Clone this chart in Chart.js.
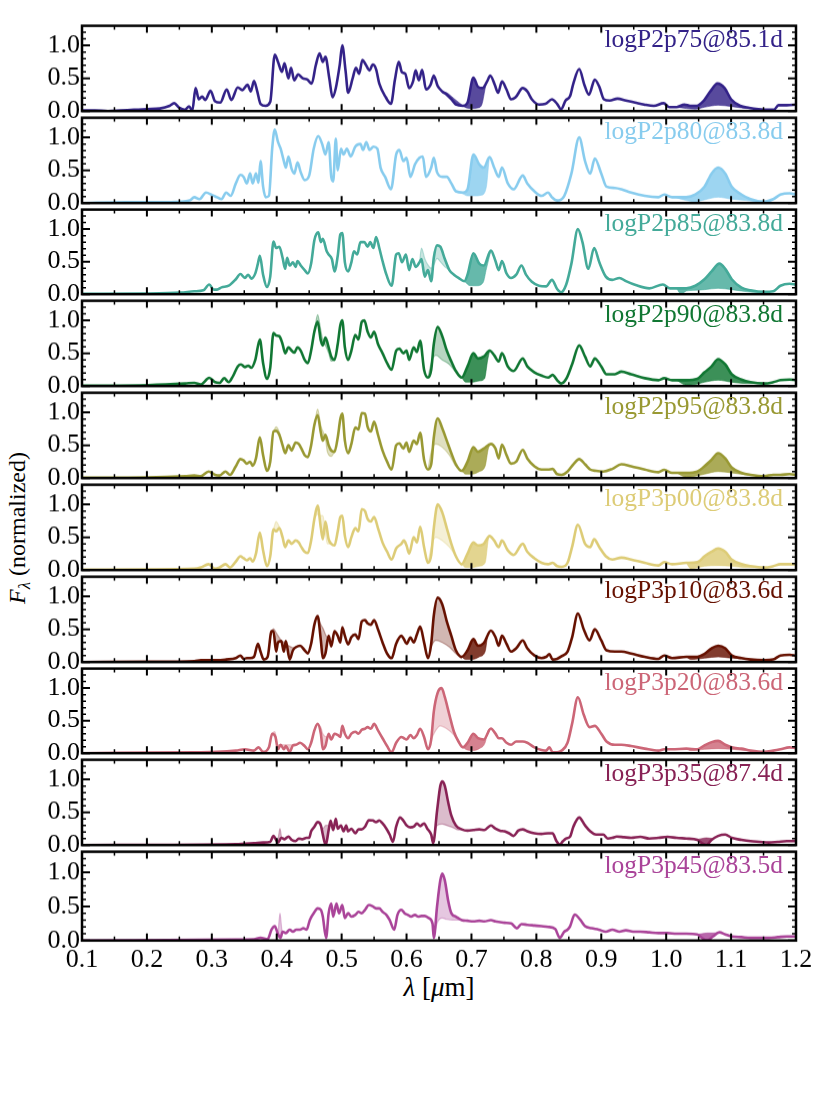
<!DOCTYPE html>
<html><head><meta charset="utf-8">
<script src="https://cdn.jsdelivr.net/npm/chart.js@4.4.1/dist/chart.umd.min.js"></script>
<style>
html,body{margin:0;padding:0;background:#fff;}
body{width:830px;height:1107px;position:relative;overflow:hidden;font-family:"Liberation Serif","DejaVu Serif",serif;}
.panel{position:absolute;left:0;width:830px;}
.plabel{position:absolute;right:47px;font-size:25.5px;line-height:25px;white-space:nowrap;}
#ytitle{position:absolute;left:21px;top:528px;transform:translate(-50%,-50%) rotate(-90deg);font-size:24px;line-height:24px;white-space:nowrap;}
#xtitle{position:absolute;left:439px;top:974px;transform:translateX(-50%);font-size:27px;line-height:27px;white-space:nowrap;}
sub{font-size:0.7em;}
</style></head><body>
<div id="ytitle"><i>F</i><sub><i>λ</i></sub> (normalized)</div>
<div id="xtitle"><i>λ</i> [<i>μ</i>m]</div>
<script>
// ---------------- DATA ----------------
const panelNames = ['logP2p75@85.1d','logP2p80@83.8d','logP2p85@83.8d','logP2p90@83.8d','logP2p95@83.8d',
                    'logP3p00@83.8d','logP3p10@83.6d','logP3p20@83.6d','logP3p35@87.4d','logP3p45@83.5d'];
const panelColors = ['#332288','#88CCEE','#44AA99','#117733','#999933','#DDCC77','#661100','#CC6677','#882255','#AA4499'];
const xMajorTicks = [0.1,0.2,0.3,0.4,0.5,0.6,0.7,0.8,0.9,1.0,1.1,1.2];
const xMinorTicks = [0.15,0.25,0.35,0.45,0.55,0.65,0.75,0.85,0.95,1.05,1.15];
const yMajorTicks = [0.0,0.5,1.0];
const yMinorTicks = [0.1,0.2,0.3,0.4,0.6,0.7,0.8,0.9,1.1,1.2];

// [wavelength (um), normalized flux]
const flux_P2p75 = [[0.10,0.01],[0.12,0.01],[0.14,0.0],[0.16,0.01],[0.18,0.02],[0.20,0.03],[0.22,0.04],[0.235,0.08],[0.242,0.12],[0.25,0.05],[0.258,0.02],[0.265,0.07],[0.27,0.01],[0.275,0.35],[0.28,0.18],[0.285,0.22],[0.29,0.17],[0.298,0.31],[0.305,0.15],[0.313,0.13],[0.323,0.33],[0.33,0.17],[0.34,0.36],[0.347,0.32],[0.355,0.40],[0.36,0.30],[0.365,0.46],[0.37,0.30],[0.375,0.11],[0.383,0.08],[0.39,0.14],[0.397,0.86],[0.402,0.75],[0.408,0.60],[0.412,0.73],[0.418,0.50],[0.422,0.66],[0.427,0.47],[0.433,0.56],[0.44,0.50],[0.447,0.48],[0.454,0.42],[0.46,0.69],[0.466,0.88],[0.471,0.75],[0.475,0.83],[0.481,0.50],[0.486,0.21],[0.491,0.35],[0.497,0.70],[0.501,1.00],[0.506,0.62],[0.51,0.28],[0.517,0.50],[0.522,0.66],[0.527,0.57],[0.532,0.78],[0.537,0.71],[0.543,0.62],[0.548,0.71],[0.553,0.64],[0.558,0.42],[0.568,0.21],[0.576,0.11],[0.582,0.47],[0.588,0.75],[0.593,0.59],[0.598,0.57],[0.604,0.35],[0.61,0.45],[0.614,0.62],[0.619,0.47],[0.624,0.63],[0.63,0.33],[0.637,0.40],[0.642,0.54],[0.648,0.38],[0.655,0.30],[0.662,0.25],[0.669,0.18],[0.676,0.10],[0.687,0.08],[0.694,0.13],[0.703,0.51],[0.71,0.37],[0.717,0.35],[0.724,0.45],[0.729,0.54],[0.736,0.40],[0.741,0.28],[0.747,0.45],[0.754,0.33],[0.761,0.18],[0.768,0.21],[0.779,0.35],[0.786,0.30],[0.793,0.18],[0.804,0.10],[0.814,0.11],[0.824,0.18],[0.832,0.11],[0.838,0.03],[0.845,0.16],[0.852,0.23],[0.857,0.42],[0.866,0.64],[0.874,0.40],[0.881,0.25],[0.89,0.48],[0.897,0.37],[0.904,0.18],[0.913,0.16],[0.925,0.19],[0.938,0.16],[0.952,0.13],[0.966,0.10],[0.981,0.08],[0.996,0.12],[1.005,0.06],[1.016,0.06],[1.028,0.10],[1.037,0.08],[1.047,0.08],[1.058,0.16],[1.068,0.30],[1.079,0.42],[1.09,0.35],[1.1,0.18],[1.114,0.08],[1.128,0.05],[1.142,0.03],[1.156,0.02],[1.166,0.02],[1.173,0.09],[1.186,0.09],[1.2,0.10]];
const flux_P2p80 = [[0.10,0.0],[0.167,0.015],[0.237,0.015],[0.266,0.04],[0.273,0.09],[0.281,0.06],[0.291,0.16],[0.301,0.12],[0.308,0.09],[0.315,0.06],[0.322,0.16],[0.329,0.11],[0.337,0.30],[0.344,0.43],[0.349,0.40],[0.354,0.30],[0.359,0.45],[0.363,0.30],[0.368,0.45],[0.372,0.31],[0.375,0.64],[0.379,0.25],[0.383,0.09],[0.388,0.11],[0.393,0.83],[0.397,1.12],[0.402,0.93],[0.406,0.83],[0.411,0.64],[0.414,0.54],[0.418,0.71],[0.423,0.52],[0.427,0.45],[0.432,0.62],[0.437,0.47],[0.443,0.35],[0.450,0.42],[0.457,0.83],[0.464,1.02],[0.470,0.90],[0.475,0.74],[0.480,0.93],[0.484,0.40],[0.487,0.33],[0.491,0.98],[0.494,0.50],[0.499,0.83],[0.503,0.74],[0.508,0.83],[0.514,0.71],[0.521,0.86],[0.529,0.90],[0.533,0.81],[0.538,0.93],[0.543,0.81],[0.549,0.86],[0.555,0.83],[0.560,0.54],[0.567,0.40],[0.576,0.21],[0.584,0.74],[0.589,0.81],[0.595,0.64],[0.600,0.69],[0.606,0.40],[0.613,0.59],[0.620,0.69],[0.625,0.71],[0.630,0.40],[0.638,0.54],[0.642,0.69],[0.647,0.47],[0.655,0.40],[0.662,0.40],[0.669,0.30],[0.676,0.18],[0.687,0.16],[0.694,0.21],[0.703,0.74],[0.712,0.59],[0.719,0.54],[0.728,0.70],[0.735,0.54],[0.742,0.40],[0.747,0.54],[0.756,0.30],[0.765,0.21],[0.779,0.42],[0.786,0.30],[0.797,0.18],[0.808,0.11],[0.818,0.16],[0.824,0.09],[0.832,0.04],[0.843,0.11],[0.854,0.45],[0.866,1.00],[0.875,0.64],[0.883,0.45],[0.890,0.68],[0.900,0.45],[0.908,0.25],[0.921,0.23],[0.931,0.21],[0.946,0.16],[0.967,0.11],[0.988,0.09],[0.997,0.13],[1.009,0.09],[1.031,0.09],[1.045,0.13],[1.059,0.25],[1.070,0.45],[1.080,0.54],[1.091,0.45],[1.101,0.25],[1.116,0.13],[1.130,0.06],[1.151,0.02],[1.165,0.06],[1.176,0.13],[1.190,0.15],[1.2,0.13]];
const flux_P2p85 = [[0.10,0.005],[0.20,0.01],[0.252,0.025],[0.273,0.045],[0.287,0.06],[0.296,0.15],[0.303,0.07],[0.308,0.07],[0.315,0.105],[0.326,0.13],[0.337,0.23],[0.344,0.31],[0.351,0.25],[0.356,0.30],[0.361,0.24],[0.367,0.32],[0.371,0.47],[0.374,0.59],[0.379,0.30],[0.385,0.11],[0.390,0.27],[0.395,0.81],[0.399,0.71],[0.404,0.73],[0.409,0.56],[0.413,0.39],[0.416,0.56],[0.420,0.44],[0.425,0.49],[0.429,0.42],[0.432,0.51],[0.437,0.44],[0.443,0.37],[0.448,0.32],[0.453,0.47],[0.458,0.83],[0.464,0.95],[0.468,0.80],[0.471,0.85],[0.477,0.66],[0.480,0.61],[0.485,0.54],[0.489,0.35],[0.494,0.59],[0.498,0.92],[0.501,0.94],[0.505,0.49],[0.510,0.35],[0.515,0.49],[0.519,0.66],[0.524,0.61],[0.529,0.80],[0.535,0.80],[0.540,0.73],[0.544,0.80],[0.549,0.71],[0.553,0.88],[0.558,0.71],[0.563,0.51],[0.569,0.30],[0.577,0.13],[0.584,0.61],[0.588,0.63],[0.593,0.49],[0.599,0.61],[0.604,0.37],[0.609,0.54],[0.614,0.42],[0.620,0.49],[0.623,0.54],[0.628,0.27],[0.633,0.37],[0.638,0.20],[0.642,0.56],[0.647,0.75],[0.652,0.73],[0.659,0.54],[0.666,0.37],[0.673,0.30],[0.680,0.25],[0.689,0.20],[0.694,0.30],[0.703,0.63],[0.712,0.47],[0.719,0.44],[0.730,0.67],[0.737,0.51],[0.742,0.37],[0.747,0.51],[0.754,0.32],[0.761,0.25],[0.769,0.30],[0.777,0.44],[0.784,0.30],[0.793,0.19],[0.804,0.13],[0.815,0.12],[0.824,0.22],[0.832,0.08],[0.838,0.03],[0.846,0.15],[0.854,0.47],[0.864,1.00],[0.871,0.80],[0.880,0.39],[0.889,0.71],[0.897,0.49],[0.907,0.27],[0.917,0.22],[0.928,0.25],[0.938,0.20],[0.953,0.14],[0.974,0.09],[0.995,0.15],[1.006,0.09],[1.016,0.09],[1.031,0.09],[1.045,0.13],[1.059,0.23],[1.070,0.35],[1.082,0.47],[1.091,0.39],[1.101,0.23],[1.116,0.10],[1.130,0.06],[1.151,0.035],[1.165,0.045],[1.176,0.13],[1.190,0.16],[1.2,0.15]];
const flux_P2p90 = [[0.10,0.005],[0.202,0.015],[0.259,0.04],[0.273,0.05],[0.283,0.025],[0.296,0.125],[0.305,0.06],[0.312,0.05],[0.319,0.12],[0.326,0.06],[0.333,0.16],[0.340,0.30],[0.345,0.33],[0.351,0.29],[0.356,0.31],[0.361,0.28],[0.367,0.40],[0.374,0.71],[0.379,0.35],[0.385,0.11],[0.390,0.28],[0.395,0.81],[0.399,0.77],[0.404,0.76],[0.409,0.64],[0.413,0.50],[0.418,0.59],[0.423,0.54],[0.427,0.51],[0.432,0.59],[0.437,0.54],[0.443,0.40],[0.448,0.35],[0.453,0.54],[0.458,0.83],[0.463,0.98],[0.468,0.69],[0.471,0.62],[0.475,0.74],[0.480,0.59],[0.484,0.45],[0.489,0.40],[0.494,0.64],[0.498,0.93],[0.501,1.00],[0.505,0.59],[0.510,0.40],[0.515,0.54],[0.521,0.78],[0.526,0.71],[0.531,0.98],[0.535,1.00],[0.540,0.83],[0.545,0.74],[0.550,0.83],[0.556,0.64],[0.563,0.50],[0.570,0.35],[0.577,0.25],[0.584,0.54],[0.589,0.57],[0.595,0.50],[0.600,0.54],[0.604,0.40],[0.611,0.59],[0.616,0.52],[0.621,0.69],[0.627,0.25],[0.633,0.13],[0.638,0.25],[0.642,0.64],[0.648,0.90],[0.655,0.76],[0.662,0.54],[0.669,0.375],[0.676,0.23],[0.685,0.13],[0.694,0.30],[0.703,0.50],[0.710,0.42],[0.719,0.45],[0.728,0.54],[0.735,0.47],[0.742,0.375],[0.747,0.50],[0.756,0.30],[0.765,0.23],[0.779,0.42],[0.786,0.30],[0.797,0.21],[0.808,0.16],[0.818,0.13],[0.825,0.17],[0.832,0.09],[0.838,0.04],[0.846,0.11],[0.855,0.33],[0.866,0.62],[0.875,0.45],[0.883,0.30],[0.890,0.42],[0.900,0.30],[0.908,0.18],[0.921,0.18],[0.931,0.22],[0.946,0.18],[0.967,0.12],[0.988,0.09],[0.997,0.12],[1.009,0.09],[1.031,0.09],[1.048,0.11],[1.059,0.21],[1.070,0.30],[1.080,0.41],[1.091,0.33],[1.101,0.18],[1.116,0.10],[1.130,0.06],[1.151,0.04],[1.165,0.06],[1.176,0.09],[1.190,0.10],[1.2,0.09]];
const flux_P2p95 = [[0.10,0.005],[0.20,0.01],[0.259,0.03],[0.273,0.04],[0.283,0.03],[0.295,0.10],[0.305,0.05],[0.312,0.04],[0.321,0.10],[0.328,0.05],[0.337,0.18],[0.344,0.29],[0.349,0.27],[0.354,0.22],[0.359,0.25],[0.363,0.19],[0.368,0.30],[0.374,0.62],[0.379,0.35],[0.385,0.11],[0.390,0.25],[0.395,0.71],[0.399,0.72],[0.404,0.66],[0.409,0.50],[0.413,0.38],[0.418,0.50],[0.423,0.42],[0.429,0.54],[0.434,0.52],[0.438,0.45],[0.443,0.35],[0.448,0.32],[0.453,0.50],[0.458,0.81],[0.463,0.96],[0.468,0.69],[0.471,0.57],[0.475,0.66],[0.480,0.50],[0.484,0.42],[0.489,0.40],[0.494,0.62],[0.498,0.90],[0.501,0.98],[0.505,0.57],[0.510,0.38],[0.515,0.52],[0.521,0.77],[0.526,0.74],[0.531,0.99],[0.536,0.98],[0.540,0.78],[0.545,0.71],[0.550,0.86],[0.556,0.66],[0.563,0.42],[0.570,0.25],[0.577,0.13],[0.584,0.50],[0.589,0.53],[0.595,0.45],[0.600,0.54],[0.604,0.40],[0.611,0.57],[0.616,0.52],[0.621,0.69],[0.627,0.28],[0.633,0.13],[0.638,0.21],[0.642,0.62],[0.648,0.91],[0.655,0.76],[0.662,0.57],[0.669,0.38],[0.676,0.21],[0.685,0.11],[0.694,0.25],[0.703,0.47],[0.710,0.40],[0.719,0.45],[0.730,0.52],[0.737,0.45],[0.742,0.30],[0.747,0.51],[0.754,0.35],[0.761,0.22],[0.769,0.25],[0.779,0.43],[0.786,0.30],[0.797,0.18],[0.808,0.13],[0.818,0.13],[0.825,0.14],[0.832,0.06],[0.839,0.05],[0.848,0.10],[0.857,0.21],[0.866,0.29],[0.875,0.21],[0.883,0.13],[0.892,0.11],[0.903,0.10],[0.917,0.14],[0.931,0.21],[0.946,0.18],[0.967,0.13],[0.988,0.09],[0.997,0.125],[1.009,0.08],[1.031,0.08],[1.048,0.10],[1.059,0.18],[1.070,0.28],[1.080,0.38],[1.091,0.30],[1.101,0.16],[1.116,0.08],[1.130,0.05],[1.151,0.03],[1.165,0.05],[1.176,0.05],[1.190,0.06],[1.2,0.05]];
const flux_P3p00 = [[0.10,0.005],[0.20,0.01],[0.273,0.02],[0.283,0.04],[0.295,0.09],[0.305,0.02],[0.312,0.04],[0.321,0.09],[0.328,0.04],[0.337,0.13],[0.344,0.21],[0.349,0.18],[0.354,0.15],[0.359,0.18],[0.363,0.13],[0.368,0.25],[0.374,0.57],[0.379,0.30],[0.385,0.06],[0.390,0.21],[0.395,0.62],[0.399,0.59],[0.404,0.64],[0.409,0.50],[0.413,0.35],[0.418,0.45],[0.423,0.40],[0.429,0.45],[0.434,0.42],[0.438,0.35],[0.443,0.28],[0.448,0.26],[0.453,0.45],[0.458,0.78],[0.463,0.98],[0.468,0.64],[0.471,0.47],[0.475,0.74],[0.480,0.47],[0.484,0.40],[0.489,0.375],[0.494,0.59],[0.498,0.81],[0.501,0.83],[0.505,0.52],[0.510,0.35],[0.515,0.50],[0.521,0.64],[0.526,0.59],[0.531,0.93],[0.536,0.90],[0.540,0.78],[0.545,0.74],[0.550,0.81],[0.556,0.64],[0.563,0.42],[0.570,0.28],[0.577,0.16],[0.584,0.33],[0.592,0.40],[0.596,0.45],[0.600,0.375],[0.604,0.25],[0.611,0.50],[0.616,0.42],[0.621,0.66],[0.627,0.35],[0.633,0.11],[0.638,0.23],[0.642,0.64],[0.648,1.00],[0.655,0.88],[0.662,0.64],[0.669,0.40],[0.676,0.21],[0.685,0.09],[0.694,0.25],[0.703,0.42],[0.710,0.375],[0.719,0.40],[0.728,0.52],[0.735,0.45],[0.742,0.35],[0.747,0.45],[0.756,0.30],[0.765,0.23],[0.779,0.40],[0.786,0.28],[0.797,0.18],[0.808,0.11],[0.818,0.09],[0.825,0.11],[0.832,0.06],[0.839,0.05],[0.848,0.11],[0.855,0.35],[0.864,0.69],[0.875,0.40],[0.883,0.35],[0.889,0.47],[0.897,0.35],[0.907,0.21],[0.917,0.16],[0.931,0.19],[0.946,0.16],[0.967,0.11],[0.988,0.07],[0.997,0.12],[1.009,0.09],[1.031,0.11],[1.048,0.12],[1.059,0.21],[1.070,0.28],[1.080,0.33],[1.091,0.28],[1.101,0.16],[1.116,0.09],[1.130,0.06],[1.151,0.04],[1.165,0.06],[1.176,0.09],[1.190,0.09],[1.2,0.09]];
const flux_P3p10 = [[0.10,0.0],[0.20,0.005],[0.273,0.015],[0.283,0.03],[0.298,0.03],[0.308,0.03],[0.322,0.04],[0.337,0.06],[0.344,0.10],[0.349,0.05],[0.354,0.06],[0.359,0.06],[0.365,0.08],[0.371,0.28],[0.375,0.16],[0.380,0.04],[0.386,0.08],[0.392,0.47],[0.395,0.47],[0.399,0.16],[0.402,0.30],[0.407,0.32],[0.411,0.16],[0.414,0.32],[0.420,0.04],[0.425,0.18],[0.430,0.23],[0.436,0.25],[0.443,0.18],[0.448,0.13],[0.453,0.28],[0.458,0.57],[0.463,0.70],[0.468,0.33],[0.471,0.06],[0.475,0.13],[0.480,0.40],[0.484,0.24],[0.489,0.47],[0.494,0.40],[0.498,0.30],[0.501,0.53],[0.505,0.40],[0.510,0.27],[0.515,0.38],[0.521,0.42],[0.526,0.35],[0.531,0.62],[0.536,0.64],[0.540,0.59],[0.545,0.57],[0.550,0.64],[0.556,0.50],[0.563,0.30],[0.570,0.13],[0.577,0.06],[0.584,0.28],[0.592,0.40],[0.596,0.35],[0.600,0.28],[0.606,0.375],[0.611,0.30],[0.616,0.42],[0.621,0.54],[0.627,0.30],[0.633,0.06],[0.638,0.28],[0.642,0.71],[0.648,0.98],[0.655,0.88],[0.662,0.62],[0.669,0.40],[0.676,0.18],[0.685,0.08],[0.694,0.18],[0.703,0.35],[0.710,0.25],[0.719,0.29],[0.730,0.48],[0.737,0.38],[0.742,0.25],[0.747,0.40],[0.754,0.28],[0.761,0.16],[0.769,0.21],[0.779,0.33],[0.786,0.21],[0.797,0.10],[0.808,0.06],[0.815,0.08],[0.820,0.12],[0.825,0.04],[0.832,0.05],[0.839,0.09],[0.848,0.16],[0.855,0.375],[0.864,0.74],[0.873,0.50],[0.882,0.33],[0.890,0.50],[0.900,0.33],[0.908,0.18],[0.921,0.16],[0.931,0.16],[0.946,0.13],[0.967,0.08],[0.988,0.05],[0.997,0.10],[1.009,0.06],[1.031,0.08],[1.048,0.08],[1.059,0.125],[1.070,0.21],[1.080,0.25],[1.091,0.21],[1.101,0.10],[1.116,0.06],[1.130,0.04],[1.151,0.03],[1.165,0.04],[1.176,0.10],[1.190,0.11],[1.2,0.10]];
const flux_P3p20 = [[0.10,0.0],[0.273,0.015],[0.308,0.02],[0.337,0.04],[0.351,0.06],[0.365,0.04],[0.372,0.09],[0.379,0.02],[0.388,0.09],[0.393,0.30],[0.398,0.25],[0.402,0.06],[0.406,0.13],[0.411,0.06],[0.414,0.11],[0.420,0.02],[0.425,0.12],[0.430,0.13],[0.436,0.16],[0.443,0.11],[0.448,0.06],[0.453,0.16],[0.458,0.35],[0.463,0.45],[0.468,0.30],[0.471,0.06],[0.475,0.11],[0.480,0.30],[0.484,0.21],[0.489,0.30],[0.494,0.28],[0.498,0.25],[0.501,0.42],[0.505,0.30],[0.510,0.23],[0.515,0.30],[0.521,0.33],[0.526,0.30],[0.531,0.36],[0.536,0.375],[0.540,0.40],[0.545,0.375],[0.550,0.45],[0.556,0.35],[0.563,0.23],[0.570,0.11],[0.577,0.015],[0.584,0.16],[0.592,0.25],[0.596,0.23],[0.600,0.21],[0.606,0.28],[0.611,0.23],[0.616,0.28],[0.621,0.375],[0.627,0.25],[0.633,0.06],[0.638,0.21],[0.642,0.64],[0.648,0.93],[0.654,1.00],[0.659,0.86],[0.666,0.59],[0.673,0.33],[0.680,0.18],[0.687,0.09],[0.694,0.16],[0.703,0.30],[0.710,0.23],[0.719,0.21],[0.730,0.38],[0.737,0.30],[0.742,0.23],[0.747,0.23],[0.754,0.16],[0.761,0.13],[0.769,0.18],[0.779,0.18],[0.786,0.16],[0.797,0.09],[0.808,0.05],[0.815,0.04],[0.820,0.09],[0.825,0.015],[0.832,0.015],[0.839,0.04],[0.848,0.16],[0.855,0.45],[0.864,0.86],[0.873,0.59],[0.882,0.40],[0.890,0.42],[0.900,0.30],[0.908,0.18],[0.921,0.13],[0.931,0.13],[0.946,0.11],[0.967,0.07],[0.988,0.04],[0.997,0.06],[1.009,0.06],[1.031,0.07],[1.048,0.06],[1.059,0.12],[1.070,0.17],[1.080,0.19],[1.091,0.13],[1.101,0.09],[1.116,0.07],[1.130,0.04],[1.151,0.02],[1.165,0.04],[1.176,0.06],[1.190,0.09],[1.2,0.08]];
const flux_P3p35 = [[0.10,0.0],[0.337,0.015],[0.365,0.03],[0.379,0.04],[0.390,0.05],[0.395,0.14],[0.399,0.08],[0.402,0.04],[0.407,0.11],[0.412,0.09],[0.418,0.13],[0.423,0.08],[0.429,0.06],[0.434,0.10],[0.439,0.09],[0.446,0.11],[0.450,0.11],[0.453,0.21],[0.458,0.28],[0.463,0.35],[0.468,0.30],[0.471,0.16],[0.4755,0.0],[0.480,0.23],[0.483,0.37],[0.487,0.23],[0.491,0.40],[0.494,0.25],[0.499,0.30],[0.503,0.21],[0.507,0.30],[0.510,0.21],[0.515,0.25],[0.521,0.18],[0.526,0.24],[0.531,0.24],[0.536,0.28],[0.542,0.38],[0.548,0.375],[0.553,0.35],[0.558,0.375],[0.563,0.33],[0.569,0.25],[0.574,0.16],[0.579,0.05],[0.584,0.28],[0.590,0.42],[0.595,0.375],[0.600,0.30],[0.606,0.27],[0.611,0.28],[0.616,0.33],[0.621,0.29],[0.627,0.33],[0.632,0.25],[0.638,0.16],[0.641,0.03],[0.647,0.52],[0.652,0.90],[0.655,0.97],[0.659,0.90],[0.664,0.66],[0.669,0.45],[0.676,0.30],[0.685,0.24],[0.694,0.22],[0.703,0.23],[0.712,0.24],[0.720,0.23],[0.730,0.30],[0.737,0.25],[0.744,0.22],[0.751,0.21],[0.758,0.18],[0.765,0.14],[0.772,0.22],[0.779,0.24],[0.786,0.21],[0.797,0.18],[0.808,0.17],[0.818,0.18],[0.825,0.18],[0.831,0.06],[0.836,0.01],[0.841,0.06],[0.846,0.10],[0.852,0.13],[0.857,0.28],[0.866,0.42],[0.875,0.30],[0.883,0.21],[0.892,0.16],[0.903,0.16],[0.910,0.10],[0.917,0.11],[0.924,0.13],[0.935,0.12],[0.946,0.11],[0.960,0.125],[0.974,0.10],[0.988,0.11],[1.002,0.125],[1.016,0.11],[1.031,0.10],[1.048,0.08],[1.055,0.03],[1.062,0.0],[1.070,0.08],[1.080,0.14],[1.091,0.16],[1.101,0.11],[1.116,0.08],[1.130,0.06],[1.144,0.05],[1.158,0.04],[1.172,0.05],[1.186,0.06],[1.2,0.06]];
const flux_P3p45 = [[0.10,0.0],[0.337,0.015],[0.365,0.02],[0.375,0.04],[0.386,0.02],[0.392,0.16],[0.397,0.21],[0.402,0.09],[0.406,0.04],[0.409,0.13],[0.414,0.11],[0.420,0.16],[0.425,0.13],[0.430,0.16],[0.436,0.16],[0.441,0.18],[0.446,0.16],[0.451,0.30],[0.457,0.40],[0.463,0.47],[0.468,0.45],[0.471,0.35],[0.476,0.04],[0.480,0.40],[0.484,0.54],[0.487,0.35],[0.492,0.54],[0.496,0.40],[0.501,0.52],[0.505,0.33],[0.510,0.40],[0.515,0.35],[0.521,0.375],[0.526,0.42],[0.531,0.40],[0.536,0.45],[0.542,0.52],[0.548,0.50],[0.553,0.47],[0.558,0.47],[0.563,0.42],[0.569,0.375],[0.574,0.30],[0.581,0.16],[0.586,0.375],[0.592,0.45],[0.597,0.40],[0.602,0.375],[0.607,0.35],[0.613,0.375],[0.618,0.35],[0.623,0.36],[0.628,0.36],[0.634,0.33],[0.640,0.25],[0.642,0.04],[0.647,0.50],[0.652,0.88],[0.655,0.98],[0.659,0.88],[0.664,0.59],[0.669,0.40],[0.676,0.35],[0.685,0.30],[0.694,0.29],[0.703,0.28],[0.712,0.29],[0.720,0.28],[0.730,0.30],[0.737,0.28],[0.744,0.27],[0.751,0.26],[0.761,0.25],[0.770,0.18],[0.777,0.24],[0.786,0.23],[0.797,0.22],[0.808,0.21],[0.818,0.20],[0.829,0.17],[0.836,0.04],[0.843,0.13],[0.848,0.16],[0.852,0.21],[0.859,0.38],[0.868,0.30],[0.875,0.21],[0.885,0.18],[0.896,0.16],[0.907,0.13],[0.917,0.16],[0.928,0.13],[0.938,0.15],[0.949,0.13],[0.960,0.13],[0.974,0.12],[0.988,0.11],[1.002,0.11],[1.016,0.10],[1.031,0.10],[1.048,0.09],[1.055,0.04],[1.063,0.0],[1.072,0.06],[1.082,0.12],[1.091,0.09],[1.101,0.06],[1.116,0.05],[1.130,0.04],[1.158,0.04],[1.172,0.05],[1.186,0.06],[1.2,0.06]];

// comparison spectrum where it departs from the main one (shaded to the main spectrum)
const alt_P2p75_a = [[0.655,0.30],[0.662,0.28],[0.672,0.20],[0.682,0.12],[0.692,0.05],[0.700,0.04],[0.710,0.05],[0.716,0.10],[0.722,0.38],[0.727,0.50],[0.729,0.54]];
const alt_P2p75_b = [[1.016,0.06],[1.031,0.04],[1.045,0.03],[1.059,0.06],[1.080,0.09],[1.101,0.07],[1.123,0.04],[1.144,0.03],[1.156,0.02]];
const alt_P2p80_a = [[0.676,0.18],[0.687,0.14],[0.694,0.11],[0.705,0.11],[0.715,0.12],[0.723,0.25],[0.727,0.64],[0.728,0.70]];
const alt_P2p80_b = [[1.016,0.08],[1.031,0.04],[1.045,0.02],[1.059,0.05],[1.080,0.09],[1.101,0.06],[1.123,0.04],[1.144,0.015],[1.151,0.02]];
const alt_P2p85_l = [[0.620,0.49],[0.623,0.71],[0.628,0.55],[0.633,0.45],[0.638,0.40],[0.642,0.45],[0.647,0.55],[0.652,0.50],[0.659,0.42],[0.666,0.37]];
const alt_P2p85_a = [[0.689,0.20],[0.698,0.13],[0.708,0.13],[0.718,0.18],[0.723,0.39],[0.730,0.67]];
const alt_P2p85_b = [[1.016,0.09],[1.023,0.0],[1.031,0.05],[1.045,0.06],[1.059,0.07],[1.080,0.09],[1.101,0.07],[1.123,0.04],[1.144,0.025],[1.151,0.035]];
const alt_P2p90_l1 = [[0.458,0.83],[0.463,1.09],[0.468,0.85],[0.471,0.70],[0.475,0.62],[0.480,0.50],[0.484,0.38],[0.489,0.40]];
const alt_P2p90_l2 = [[0.633,0.13],[0.638,0.35],[0.645,0.47],[0.655,0.40],[0.666,0.33],[0.676,0.21],[0.685,0.13]];
const alt_P2p90_a = [[0.685,0.13],[0.691,0.06],[0.701,0.06],[0.712,0.08],[0.720,0.11],[0.725,0.40],[0.728,0.54]];
const alt_P2p90_b = [[1.016,0.09],[1.031,0.015],[1.045,0.025],[1.059,0.06],[1.080,0.09],[1.101,0.06],[1.123,0.04],[1.151,0.04]];
const alt_P2p95_l1 = [[0.395,0.71],[0.399,0.78],[0.404,0.70],[0.409,0.50]];
const alt_P2p95_l2 = [[0.458,0.81],[0.463,1.05],[0.468,0.80],[0.475,0.60],[0.478,0.40],[0.484,0.33],[0.489,0.40]];
const alt_P2p95_l3 = [[0.633,0.13],[0.638,0.40],[0.645,0.52],[0.655,0.47],[0.666,0.35],[0.676,0.18],[0.685,0.11]];
const alt_P2p95_a = [[0.685,0.11],[0.691,0.06],[0.701,0.06],[0.712,0.10],[0.721,0.18],[0.726,0.45],[0.730,0.52]];
const alt_P2p95_b = [[1.016,0.08],[1.031,0.015],[1.045,0.03],[1.059,0.06],[1.080,0.10],[1.101,0.08],[1.123,0.05],[1.151,0.03]];
const alt_P3p00_l1 = [[0.395,0.62],[0.399,0.74],[0.404,0.66],[0.409,0.50]];
const alt_P3p00_l2 = [[0.458,0.78],[0.463,0.85],[0.468,0.83],[0.471,0.83],[0.478,0.40],[0.484,0.40]];
const alt_P3p00_l3 = [[0.633,0.11],[0.638,0.35],[0.645,0.50],[0.655,0.45],[0.666,0.35],[0.676,0.21],[0.685,0.06]];
const alt_P3p00_a = [[0.685,0.09],[0.691,0.04],[0.701,0.04],[0.712,0.06],[0.721,0.11],[0.726,0.47],[0.728,0.52]];
const alt_P3p00_b = [[1.031,0.11],[1.038,0.02],[1.059,0.06],[1.080,0.07],[1.101,0.06],[1.123,0.04],[1.151,0.04]];
const alt_P3p10_l1 = [[0.392,0.47],[0.395,0.51],[0.399,0.45],[0.407,0.33],[0.414,0.28],[0.420,0.24],[0.425,0.22],[0.430,0.23]];
const alt_P3p10_l2 = [[0.463,0.70],[0.468,0.57],[0.471,0.52],[0.478,0.38],[0.480,0.40]];
const alt_P3p10_l3 = [[0.633,0.06],[0.638,0.23],[0.645,0.33],[0.655,0.30],[0.666,0.23],[0.676,0.13],[0.685,0.05]];
const alt_P3p10_a = [[0.685,0.08],[0.691,0.04],[0.701,0.04],[0.712,0.08],[0.721,0.16],[0.726,0.45],[0.730,0.48]];
const alt_P3p10_b = [[1.031,0.08],[1.038,0.04],[1.059,0.06],[1.080,0.08],[1.101,0.06],[1.123,0.05],[1.151,0.03]];
const alt_P3p20_l1 = [[0.392,0.30],[0.397,0.33],[0.402,0.13],[0.407,0.13],[0.414,0.13],[0.420,0.13],[0.425,0.13]];
const alt_P3p20_l2 = [[0.463,0.45],[0.468,0.40],[0.471,0.30],[0.478,0.25],[0.480,0.30]];
const alt_P3p20_l3 = [[0.638,0.21],[0.645,0.35],[0.652,0.42],[0.662,0.375],[0.673,0.28],[0.684,0.13],[0.687,0.09]];
const alt_P3p20_a = [[0.687,0.09],[0.691,0.06],[0.701,0.04],[0.712,0.07],[0.721,0.16],[0.726,0.36],[0.730,0.38]];
const alt_P3p20_b = [[1.031,0.07],[1.038,0.04],[1.059,0.06],[1.080,0.07],[1.101,0.06],[1.123,0.04],[1.151,0.02]];
const alt_P3p35_l1 = [[0.399,0.08],[0.402,0.10],[0.405,0.25],[0.408,0.10],[0.412,0.09]];
const alt_P3p35_l2 = [[0.468,0.30],[0.471,0.25],[0.4755,0.30],[0.480,0.30]];
const alt_P3p35_l3 = [[0.641,0.03],[0.647,0.30],[0.655,0.32],[0.662,0.30],[0.671,0.27],[0.680,0.23],[0.685,0.24]];
const alt_P3p35_a = [[1.045,0.08],[1.055,0.10],[1.062,0.11],[1.072,0.10],[1.080,0.14]];
const alt_P3p45_l1 = [[0.402,0.09],[0.405,0.40],[0.408,0.15],[0.409,0.13]];
const alt_P3p45_l3 = [[0.642,0.04],[0.647,0.25],[0.655,0.33],[0.662,0.31],[0.671,0.30],[0.680,0.30],[0.685,0.30]];
const alt_P3p45_a = [[1.048,0.09],[1.055,0.10],[1.063,0.11],[1.072,0.11],[1.082,0.12]];

const mainSpectra = [flux_P2p75,flux_P2p80,flux_P2p85,flux_P2p90,flux_P2p95,flux_P3p00,flux_P3p10,flux_P3p20,flux_P3p35,flux_P3p45];
const darkBands = [[alt_P2p75_a,alt_P2p75_b],[alt_P2p80_a,alt_P2p80_b],[alt_P2p85_a,alt_P2p85_b],[alt_P2p90_a,alt_P2p90_b],[alt_P2p95_a,alt_P2p95_b],
                   [alt_P3p00_a,alt_P3p00_b],[alt_P3p10_a,alt_P3p10_b],[alt_P3p20_a,alt_P3p20_b],[alt_P3p35_a],[alt_P3p45_a]];
const lightBands = [[],[],[alt_P2p85_l],[alt_P2p90_l1,alt_P2p90_l2],[alt_P2p95_l1,alt_P2p95_l2,alt_P2p95_l3],
                    [alt_P3p00_l1,alt_P3p00_l2,alt_P3p00_l3],[alt_P3p10_l1,alt_P3p10_l2,alt_P3p10_l3],[alt_P3p20_l1,alt_P3p20_l2,alt_P3p20_l3],
                    [alt_P3p35_l1,alt_P3p35_l2,alt_P3p35_l3],[alt_P3p45_l1,alt_P3p45_l3]];

// ---------------- RENDER ----------------
const T = 22, H = 91.8, PAD = 14;
const FONT = "'Liberation Serif', 'DejaVu Serif', serif";
function rgba(hex,a){const n=parseInt(hex.slice(1),16);return `rgba(${(n>>16)&255},${(n>>8)&255},${n&255},${a})`;}

const framePlugin = {
  id:'frame',
  afterDraw(chart){
    const {ctx, chartArea:a} = chart; const x = chart.scales.x, y = chart.scales.y;
    ctx.save(); ctx.strokeStyle = '#000';
    const seg=(x0,y0,x1,y1)=>{ctx.moveTo(x0,y0);ctx.lineTo(x1,y1);};
    ctx.lineWidth = 2; ctx.beginPath();
    xMajorTicks.forEach(v=>{const p=x.getPixelForValue(v); seg(p,a.bottom,p,a.bottom-7); seg(p,a.top,p,a.top+7);});
    yMajorTicks.forEach(v=>{const p=y.getPixelForValue(v); seg(a.left,p,a.left+8,p); seg(a.right,p,a.right-8,p);});
    ctx.stroke();
    ctx.lineWidth = 1.5; ctx.beginPath();
    xMinorTicks.forEach(v=>{const p=x.getPixelForValue(v); seg(p,a.bottom,p,a.bottom-4); seg(p,a.top,p,a.top+4);});
    yMinorTicks.forEach(v=>{const p=y.getPixelForValue(v); seg(a.left,p,a.left+4,p); seg(a.right,p,a.right-4,p);});
    ctx.stroke();
    ctx.lineWidth = 2.5; ctx.strokeRect(a.left,a.top,a.right-a.left,a.bottom-a.top);
    ctx.restore();
  }
};

mainSpectra.forEach((main,i)=>{
  const last = i === mainSpectra.length-1;
  const color = panelColors[i];
  const div = document.createElement('div'); div.className='panel';
  div.style.top = (T + i*H - PAD) + 'px';
  div.style.height = (H + PAD + (last ? 42 : PAD)) + 'px';
  const cv = document.createElement('canvas'); div.appendChild(cv); document.body.appendChild(div);
  const lab = document.createElement('div'); lab.className='plabel';
  lab.textContent = panelNames[i]; lab.style.color = color; lab.style.top = (T + i*H + 4) + 'px';
  document.body.appendChild(lab);

  const datasets = [];
  const nb = darkBands[i].length + lightBands[i].length;
  const common = {pointRadius:0, cubicInterpolationMode:'monotone'};
  darkBands[i].forEach(b=>datasets.push({...common, data:b, borderColor:rgba(color,0.55), borderWidth:1,
      fill:{target:nb}, backgroundColor:rgba(color,0.82), order:2}));
  lightBands[i].forEach(b=>datasets.push({...common, data:b, borderColor:rgba(color,0.35), borderWidth:1.2,
      fill:{target:nb}, backgroundColor:rgba(color,0.3), order:2}));
  datasets.push({...common, data:main, borderColor:color, borderWidth:2.6, fill:false, order:0});

  new Chart(cv, {
    type:'line',
    data:{datasets},
    options:{
      responsive:true, maintainAspectRatio:false, animation:false,
      layout:{padding:{left:0,right:34,top:PAD,bottom:last?0:PAD}},
      plugins:{legend:{display:false}, tooltip:{enabled:false}},
      scales:{
        x:{type:'linear', min:0.1, max:1.2, display:last,
           afterBuildTicks:s=>{s.ticks = xMajorTicks.map(v=>({value:v}));},
           afterFit:s=>{s.height = last ? 42 : 0;},
           ticks:{callback:v=>Number(v).toFixed(1), font:{family:FONT,size:26}, color:'#000', padding:4, maxRotation:0, autoSkip:false},
           grid:{display:false, drawTicks:false}, border:{display:false}},
        y:{type:'linear', min:0, max:1.3,
           afterBuildTicks:s=>{s.ticks = yMajorTicks.map(v=>({value:v}));},
           afterFit:s=>{s.width = 82;},
           ticks:{callback:v=>Number(v).toFixed(1), font:{family:FONT,size:26}, color:'#000', padding:2},
           grid:{display:false, drawTicks:false}, border:{display:false}}
      }
    },
    plugins:[framePlugin]
  });
});
</script>
</body></html>
